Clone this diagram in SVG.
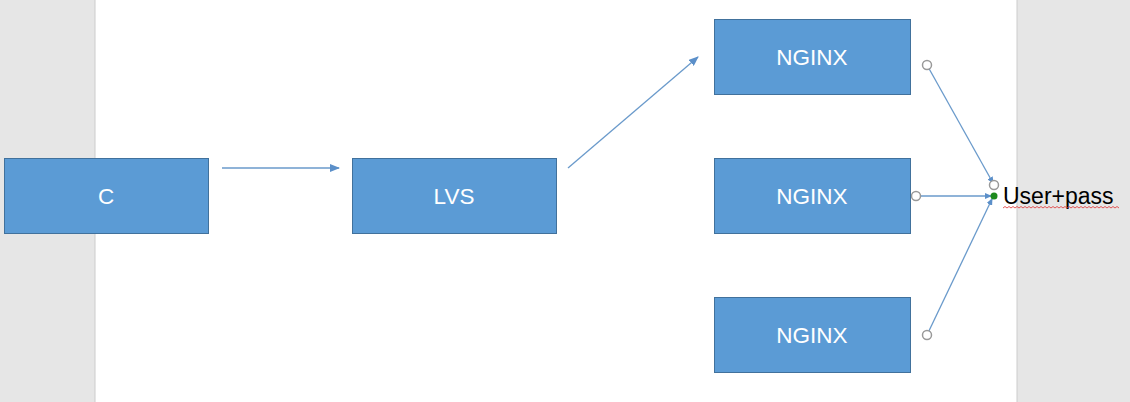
<svg xmlns="http://www.w3.org/2000/svg" width="1130" height="402" viewBox="0 0 1130 402">
<defs>
<style>
.box{fill:#5b9bd5;stroke:#41719c;stroke-width:1}
.lbl{fill:#ffffff;font-family:"Liberation Sans",Arial,sans-serif;font-size:22.5px;text-anchor:middle}
.con{stroke:#6a9acb;stroke-width:1.3;fill:none}
.h{fill:#ffffff;stroke:#999999;stroke-width:1.5}
</style>
<marker id="arr" markerWidth="10" markerHeight="8" refX="9" refY="4" orient="auto" markerUnits="userSpaceOnUse">
<path d="M0,0 L10,4 L0,8 z" fill="#5b8fc9"/>
</marker>
<marker id="arrs" markerWidth="7" markerHeight="6" refX="6" refY="3" orient="auto" markerUnits="userSpaceOnUse">
<path d="M0,0 L7,3 L0,6 z" fill="#5b8fc9"/>
</marker>
</defs>
<rect x="0" y="0" width="1130" height="402" fill="#e6e6e6"/>
<rect x="95" y="0" width="922" height="402" fill="#ffffff"/>
<line x1="95" y1="0" x2="95" y2="402" stroke="#cccccc" stroke-width="1"/>
<line x1="1017" y1="0" x2="1017" y2="402" stroke="#cccccc" stroke-width="1"/>
<g id="connectors">
<line class="con" x1="222" y1="168" x2="339" y2="168" marker-end="url(#arr)"/>
<line class="con" x1="568" y1="168" x2="698" y2="57" marker-end="url(#arr)"/>
<line class="con" x1="927" y1="65" x2="993" y2="183" marker-end="url(#arrs)"/>
<line class="con" x1="916" y1="196" x2="991" y2="196" marker-end="url(#arrs)"/>
<line class="con" x1="927" y1="335" x2="992" y2="199" marker-end="url(#arrs)"/>
<circle class="h" cx="927" cy="65" r="4.5"/>
<circle class="h" cx="916" cy="196" r="4.5"/>
<circle class="h" cx="927" cy="335" r="4.5"/>
<circle class="h" cx="994" cy="185" r="4.5"/>
<circle cx="994" cy="196" r="3.5" fill="#1e8a1e"/>
</g>
<g id="node-c"><rect class="box" x="4.5" y="158.5" width="204" height="75"/><text class="lbl" x="106" y="204">C</text></g>
<g id="node-lvs"><rect class="box" x="352.5" y="158.5" width="204" height="75"/><text class="lbl" x="454" y="204">LVS</text></g>
<g id="node-nginx1"><rect class="box" x="714.5" y="19.5" width="196" height="75"/><text class="lbl" x="812" y="65">NGINX</text></g>
<g id="node-nginx2"><rect class="box" x="714.5" y="158.5" width="196" height="75"/><text class="lbl" x="812" y="204">NGINX</text></g>
<g id="node-nginx3"><rect class="box" x="714.5" y="297.5" width="196" height="75"/><text class="lbl" x="812" y="343">NGINX</text></g>
<g id="label-userpass">
<text x="1003" y="204" font-family="Liberation Sans, Arial, sans-serif" font-size="23" fill="#000000">User+pass</text>
<path d="M1003,208 l2,-1.5 l2,1.5 l2,-1.5 l2,1.5 l2,-1.5 l2,1.5 l2,-1.5 l2,1.5 l2,-1.5 l2,1.5 l2,-1.5 l2,1.5 l2,-1.5 l2,1.5 l2,-1.5 l2,1.5 l2,-1.5 l2,1.5 l2,-1.5 l2,1.5 l2,-1.5 l2,1.5 l2,-1.5 l2,1.5 l2,-1.5 l2,1.5 l2,-1.5 l2,1.5 l2,-1.5 l2,1.5 l2,-1.5 l2,1.5 l2,-1.5 l2,1.5 l2,-1.5 l2,1.5 l2,-1.5 l2,1.5 l2,-1.5 l2,1.5 l2,-1.5 l2,1.5 l2,-1.5 l2,1.5 l2,-1.5 l2,1.5 l2,-1.5 l2,1.5 l2,-1.5 l2,1.5 l2,-1.5 l2,1.5 l2,-1.5 l2,1.5 l2,-1.5 l2,1.5 l2,-1.5 l2,1.5" fill="none" stroke="#e03030" stroke-width="0.8"/>
</g>
</svg>
